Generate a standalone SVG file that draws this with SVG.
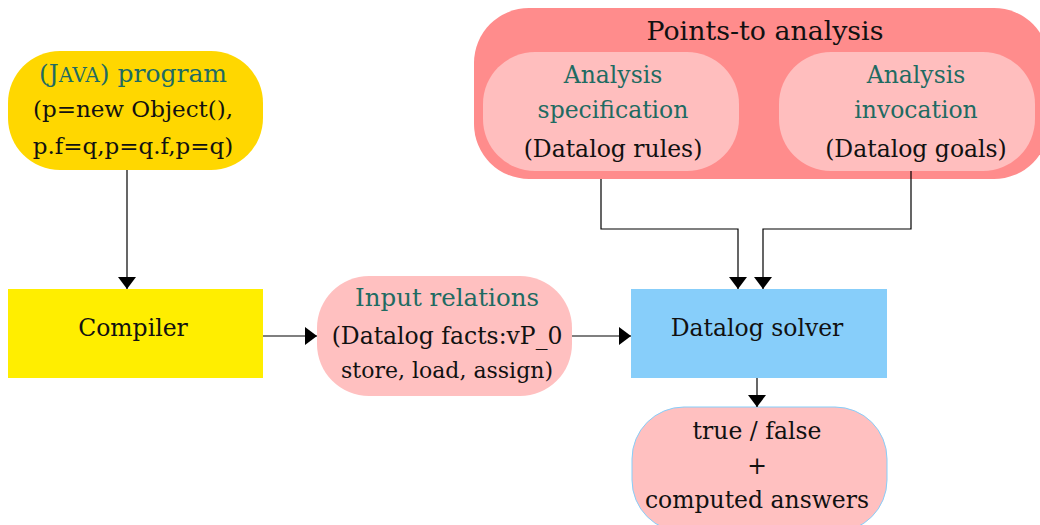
<svg xmlns="http://www.w3.org/2000/svg" width="1040" height="525" viewBox="0 0 1040 525" font-family="'DejaVu Serif', 'Liberation Serif', serif">
<defs>
<style>
text{font-family:"DejaVu Serif","Liberation Serif",serif;font-size:23.5px;fill:#111;text-anchor:middle}
.t{fill:#1f6b62}
.s{font-size:22px}
.j{font-size:23px}
.jt{font-size:25px}
.sc{font-size:20px}
.c{fill:none;stroke:#000;stroke-width:1.2}
</style>
<marker id="ah" viewBox="0 0 12 18" refX="12" refY="9" markerWidth="12" markerHeight="18" markerUnits="userSpaceOnUse" orient="auto">
<path d="M0,0 L12,9 L0,18 z" fill="#000"/>
</marker>
</defs>
<rect width="1040" height="525" fill="#fff"/>
<g id="java">
<rect x="8" y="51" width="255" height="119" rx="52" fill="#FFD700"/>
<text x="133" y="82" class="t jt">(J<tspan class="sc">AVA</tspan>) program</text>
<text x="133" y="117" class="j">(p=new Object(),</text>
<text x="133" y="154" class="j">p.f=q,p=q.f,p=q)</text>
</g>
<g id="compiler">
<rect x="8" y="289" width="255" height="89" fill="#FFEE00"/>
<text x="133" y="336">Compiler</text>
</g>
<g id="input">
<rect x="317" y="276" width="255" height="120" rx="52" fill="#FFC0C0"/>
<text x="447" y="306" class="t" style="font-size:24.5px">Input relations</text>
<text x="447" y="344">(Datalog facts:vP_0</text>
<text x="447" y="378" class="s">store, load, assign)</text>
</g>
<g id="solver">
<rect x="631" y="289" width="256" height="89" fill="#87CEFA"/>
<text x="757" y="336">Datalog solver</text>
</g>
<g id="result">
<rect x="632" y="407" width="255" height="125" rx="52" fill="#FFC0C0" stroke="#87CEFA" stroke-width="1"/>
<text x="757" y="439">true / false</text>
<text x="757" y="474">+</text>
<text x="757" y="508">computed answers</text>
</g>
<g id="pointsto">
<rect x="474" y="8" width="575" height="171" rx="55" fill="#FF8C8C"/>
<text x="765" y="40" style="font-size:26.8px">Points-to analysis</text>
</g>
<g id="spec">
<rect x="483" y="52" width="256" height="119" rx="52" fill="#FFBEBE"/>
<text x="613" y="83" class="t">Analysis</text>
<text x="613" y="118" class="t">specification</text>
<text x="613" y="157">(Datalog rules)</text>
</g>
<g id="invocation">
<rect x="779" y="52" width="256" height="119" rx="52" fill="#FFBEBE"/>
<text x="916" y="83" class="t">Analysis</text>
<text x="916" y="118" class="t">invocation</text>
<text x="916" y="157">(Datalog goals)</text>
</g>
<g id="connectors">
<path class="c" d="M127,170 V289" marker-end="url(#ah)"/>
<path class="c" d="M263,336 H317" marker-end="url(#ah)"/>
<path class="c" d="M572,336 H631" marker-end="url(#ah)"/>
<path class="c" d="M601,179 V229 H738 V289" marker-end="url(#ah)"/>
<path class="c" d="M911,171 V229 H763 V289" marker-end="url(#ah)"/>
<path class="c" d="M757,378 V407" marker-end="url(#ah)"/>
</g>
</svg>
